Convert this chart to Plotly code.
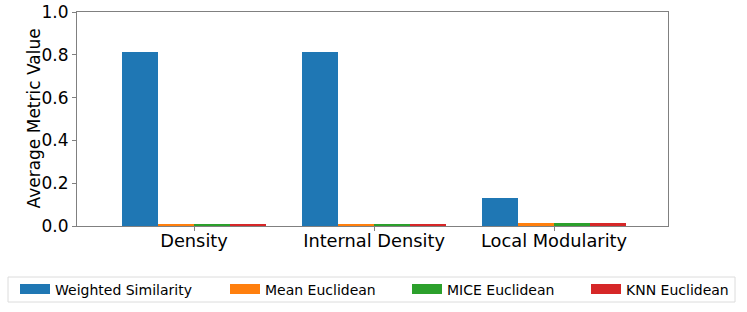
import plotly.graph_objects as go

categories = ["Density", "Internal Density", "Local Modularity"]
series_names = ["Weighted Similarity", "Mean Euclidean", "MICE Euclidean", "KNN Euclidean"]
weighted_similarity = [0.813, 0.813, 0.131]
mean_euclidean = [0.005, 0.005, 0.012]
mice_euclidean = [0.005, 0.005, 0.012]
knn_euclidean = [0.005, 0.005, 0.012]
colors = ["#1f77b4", "#ff7f0e", "#2ca02c", "#d62728"]
y_title = "Average Metric Value"

series = [weighted_similarity, mean_euclidean, mice_euclidean, knn_euclidean]
width = 0.2
legend_ids = ["legend", "legend2", "legend3", "legend4"]
legend_x_px = [15, 225, 407, 586]

W, H = 747, 312
fig = go.Figure()
for j, (name, vals, c) in enumerate(zip(series_names, series, colors)):
    xs = [i + (j - 1.5) * width for i in range(len(categories))]
    fig.add_trace(go.Bar(x=xs, y=vals, name=name, width=width, showlegend=False,
                         marker=dict(color=c, line=dict(width=0))))
for j, (name, c) in enumerate(zip(series_names, colors)):
    fig.add_trace(go.Scatter(x=[None], y=[None], mode="lines", name=name,
                             line=dict(color=c, width=12), legend=legend_ids[j], showlegend=True))

layout_legends = {}
for j, lid in enumerate(legend_ids):
    layout_legends[lid] = dict(
        xref="container", yref="container", x=legend_x_px[j] / W, xanchor="left",
        y=1 - 289.5 / H, yanchor="middle", font=dict(size=14),
        borderwidth=0, bgcolor="rgba(0,0,0,0)", orientation="h",
    )

fig.update_layout(
    width=W, height=H,
    margin=dict(l=77, r=79, t=12, b=86),
    plot_bgcolor="white", paper_bgcolor="white",
    font=dict(family="DejaVu Sans", color="black"),
    barmode="overlay",
    bargap=0,
    **layout_legends,
)
fig.add_shape(type="rect", xref="paper", yref="paper",
              x0=(8 - 77) / 591, x1=(735 - 77) / 591,
              y0=(226 - 302) / 214, y1=(226 - 277) / 214,
              line=dict(color="#dcdcdc", width=1), fillcolor="rgba(0,0,0,0)", layer="below")
fig.add_annotation(text=y_title, xref="paper", yref="paper", x=(33.5 - 77) / 591, y=0.5,
                   xanchor="center", yanchor="middle", textangle=-90, showarrow=False,
                   font=dict(size=17))
fig.update_xaxes(
    range=[-0.65, 2.633], tickmode="array", tickvals=list(range(len(categories))),
    ticktext=categories, tickfont=dict(size=17.8), ticks="outside", ticklen=4,
    tickcolor="#808080", showline=True, linecolor="#808080", linewidth=1, mirror=True,
    showgrid=False, zeroline=False, automargin=False, ticklabelstandoff=-5,
)
fig.update_yaxes(
    range=[0, 1], tickvals=[0, 0.2, 0.4, 0.6, 0.8, 1.0], tickformat=".1f",
    tickfont=dict(size=17), ticks="outside", ticklen=4, tickcolor="#808080",
    showline=True, linecolor="#808080", linewidth=1, mirror=True,
    showgrid=False, zeroline=False, automargin=False,
)
fig.write_html("out.html", config={"displayModeBar": False},
               post_script="document.body.style.margin='0px';")
